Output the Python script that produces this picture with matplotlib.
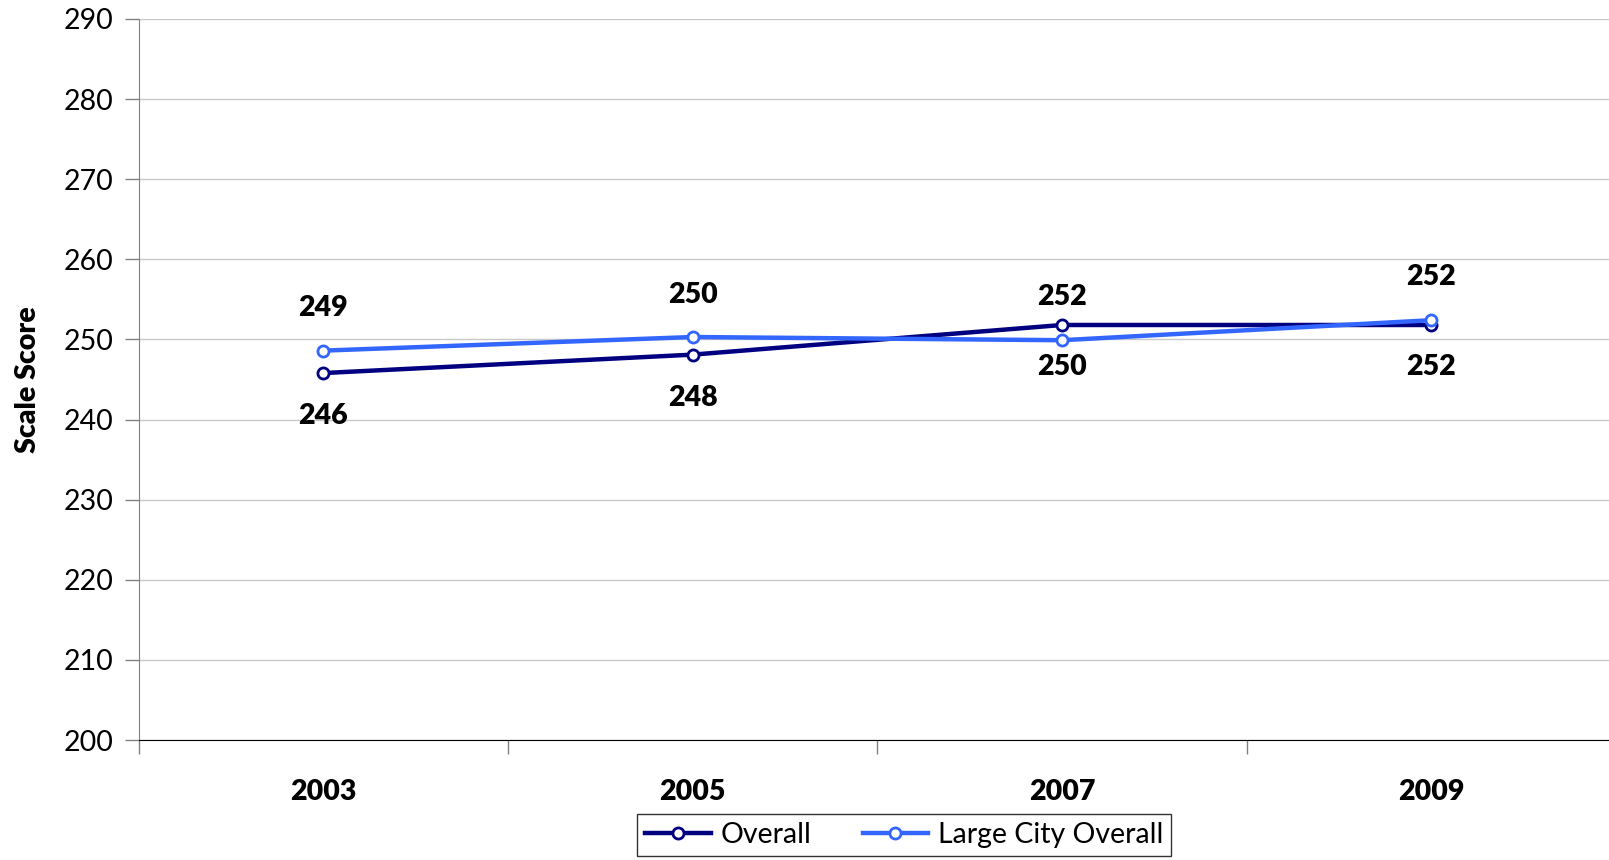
import matplotlib
matplotlib.use("Agg")
import matplotlib.pyplot as plt
from matplotlib.ticker import FixedLocator, NullFormatter

plt.rcParams['font.family'] = ['Lato', 'DejaVu Sans']

years = ["2003", "2005", "2007", "2009"]
overall = [245.8, 248.1, 251.8, 251.8]
large_city = [248.6, 250.3, 249.9, 252.4]

navy = "#000080"
light_blue = "#3366FF"

# vertical offsets (points) of the value labels from their markers
overall_label_dy = [-31, -31, 20, -30]
large_city_label_dy = [31, 30, -19, 31]

fig = plt.figure(figsize=(16.09, 8.6), dpi=100)
ax = fig.add_axes([0.0861, 0.1395, 1.0044 - 0.0861, 0.978 - 0.1395])

x = list(range(len(years)))
ax.plot(x, overall, color=navy, lw=3.2, marker='o', ms=8, mfc='white',
        mec=navy, mew=2, label="Overall", zorder=3)
ax.plot(x, large_city, color=light_blue, lw=3.2, marker='o', ms=8, mfc='white',
        mec=light_blue, mew=2, label="Large City Overall", zorder=4)

for vals, offsets in ((overall, overall_label_dy), (large_city, large_city_label_dy)):
    for i in x:
        ax.annotate(f"{vals[i]:.0f}", (i, vals[i]),
                    xytext=(0, offsets[i]), textcoords='offset points',
                    ha='center', va='center', fontsize=20.5, fontweight='heavy')

ax.set_xlim(-0.5, len(years) - 0.5)
ax.set_ylim(200, 290)
ax.set_yticks(range(200, 291, 10))
ax.tick_params(axis='y', labelsize=20.5, length=10, width=1, color='#808080', pad=8)
ax.yaxis.grid(True, color='#c8c8c8', lw=1)
ax.set_axisbelow(True)

# category boundaries as major ticks, year labels on minor ticks
ax.xaxis.set_major_locator(FixedLocator([i + 0.5 for i in range(-1, len(years))]))
ax.xaxis.set_major_formatter(NullFormatter())
ax.set_xticks(x, years, minor=True)
ax.tick_params(axis='x', which='major', length=10, width=1, color='#808080')
ax.tick_params(axis='x', which='minor', length=0, pad=28, labelsize=20.5)
for lbl in ax.get_xticklabels(minor=True):
    lbl.set_fontweight('heavy')

for side in ('top', 'right'):
    ax.spines[side].set_visible(False)
ax.spines['left'].set_color('#808080')
ax.spines['bottom'].set_color('black')

ax.set_ylabel("Scale Score", fontsize=20.5, fontweight='heavy', labelpad=16)

leg = fig.legend(loc='upper center', bbox_to_anchor=(0.562, 0.0535), ncol=2,
                 fontsize=20.5, frameon=True, fancybox=False, edgecolor='black',
                 handlelength=2.3, columnspacing=1.8, borderpad=0.28,
                 handletextpad=0.35, borderaxespad=0)
leg.get_frame().set_linewidth(1)

fig.savefig("out.png", dpi=100)
